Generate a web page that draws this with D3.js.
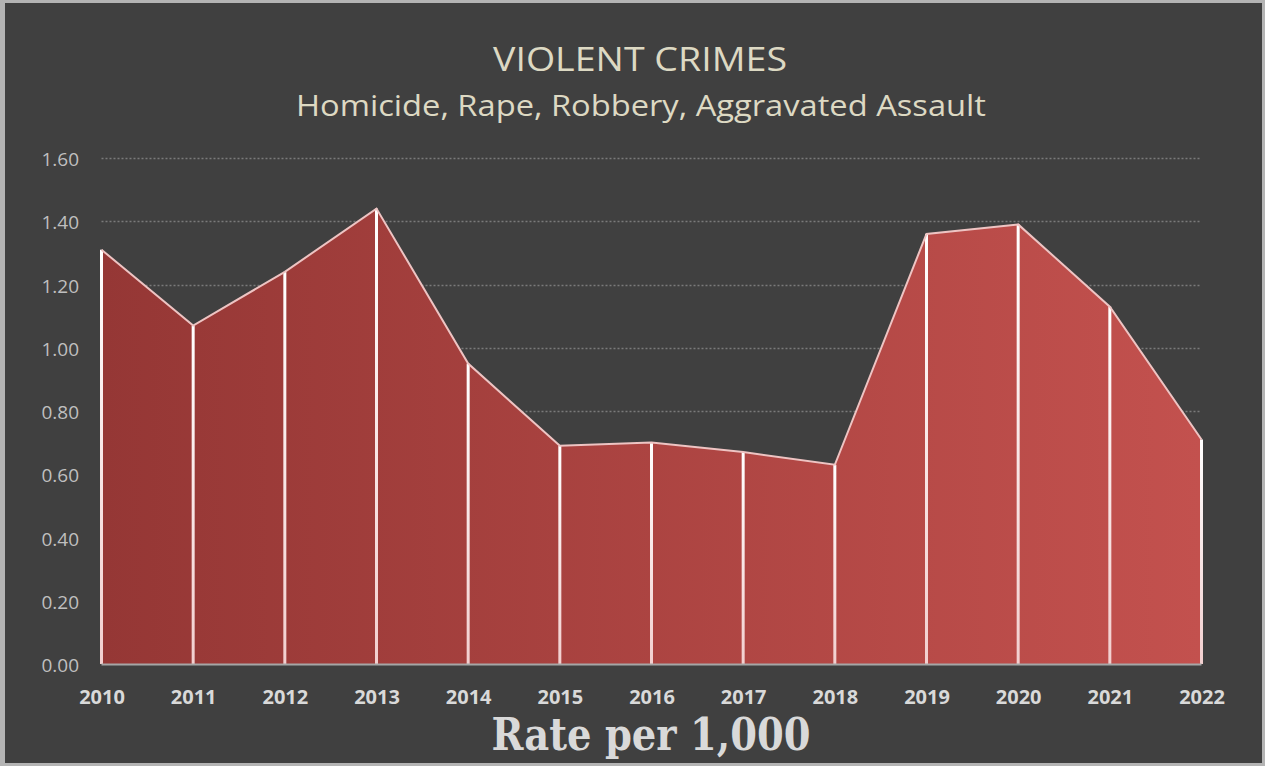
<!DOCTYPE html>
<html>
<head>
<meta charset="utf-8">
<script src="https://cdn.jsdelivr.net/npm/d3@7/dist/d3.min.js"></script>
<style>
  html, body { margin: 0; padding: 0; background: #b4b4b4; }
  svg { display: block; }
</style>
</head>
<body>
<svg id="chart" width="1265" height="766"></svg>
<script>
// Violent crime rate per 1,000 residents, by year
const years = [2010, 2011, 2012, 2013, 2014, 2015, 2016, 2017, 2018, 2019, 2020, 2021, 2022];
const rates = [1.31, 1.07, 1.24, 1.44, 0.95, 0.69, 0.70, 0.67, 0.63, 1.36, 1.39, 1.13, 0.71];
const yTicks = [0, 0.2, 0.4, 0.6, 0.8, 1.0, 1.2, 1.4, 1.6];

const titleText = "VIOLENT CRIMES";
const subtitleText = "Homicide, Rape, Robbery, Aggravated Assault";
const axisTitleText = "Rate per 1,000";

const data = years.map((y, i) => ({ year: y, rate: rates[i] }));

const svg = d3.select("#chart");
const W = 1265, H = 766;

// chart panel with thin light frame
svg.append("rect").attr("x", 0).attr("y", 0).attr("width", W).attr("height", H).attr("fill", "#b4b4b4");
svg.append("rect").attr("x", 5).attr("y", 3).attr("width", 1257).attr("height", 760).attr("fill", "#404040");

const x = d3.scaleLinear().domain([2010, 2022]).range([101.5, 1201.5]);
const y = d3.scaleLinear().domain([0, 1.6]).range([664, 158]);

const defs = svg.append("defs");
const grad = defs.append("linearGradient")
  .attr("id", "areaFill")
  .attr("gradientUnits", "userSpaceOnUse")
  .attr("x1", x(2010)).attr("x2", x(2022)).attr("y1", 0).attr("y2", 0);
grad.append("stop").attr("offset", "0%").attr("stop-color", "#953735");
grad.append("stop").attr("offset", "100%").attr("stop-color", "#c3514e");

const dropGrad = defs.append("linearGradient")
  .attr("id", "dropFill")
  .attr("x1", 0).attr("x2", 0).attr("y1", 0).attr("y2", 1);
dropGrad.append("stop").attr("offset", "0%").attr("stop-color", "#ffffff");
dropGrad.append("stop").attr("offset", "100%").attr("stop-color", "#f2cfcf");

// dotted horizontal gridlines
svg.append("g")
  .selectAll("line")
  .data(yTicks.filter(t => t > 0))
  .join("line")
  .attr("x1", x(2010)).attr("x2", x(2022))
  .attr("y1", d => Math.round(y(d)) + 0.5).attr("y2", d => Math.round(y(d)) + 0.5)
  .attr("stroke", "#7a7a7a")
  .attr("stroke-width", 1.5)
  .attr("stroke-dasharray", "2,2");

// filled area
const area = d3.area()
  .x(d => x(d.year))
  .y0(y(0))
  .y1(d => y(d.rate));
svg.append("path")
  .datum(data)
  .attr("d", area)
  .attr("fill", "url(#areaFill)");

// drop lines from each point to the baseline
svg.append("g")
  .selectAll("rect")
  .data(data)
  .join("rect")
  .attr("x", d => x(d.year) - 1.5)
  .attr("width", 3)
  .attr("y", d => y(d.rate))
  .attr("height", d => y(0) - y(d.rate))
  .attr("fill", "url(#dropFill)");

// area outline
const line = d3.line().x(d => x(d.year)).y(d => y(d.rate));
svg.append("path")
  .datum(data)
  .attr("d", line)
  .attr("fill", "none")
  .attr("stroke", "#eec4c3")
  .attr("stroke-width", 2);

// baseline
svg.append("line")
  .attr("x1", x(2010)).attr("x2", x(2022))
  .attr("y1", y(0) + 0.5).attr("y2", y(0) + 0.5)
  .attr("stroke", "#a6a6a6")
  .attr("stroke-width", 2);

// y axis labels
const yAxis = d3.axisLeft(y).tickValues(yTicks).tickFormat(d3.format(".2f")).tickSize(0).tickPadding(0);
const yg = svg.append("g").attr("transform", "translate(79,1)").call(yAxis);
yg.select(".domain").remove();
yg.selectAll("text")
  .attr("fill", "#bfbfbf")
  .attr("font-family", "'Open Sans', sans-serif")
  .attr("font-size", 19)
  .attr("dy", "0.35em");

// x axis labels
const xAxis = d3.axisBottom(x).tickValues(years).tickFormat(d3.format("d")).tickSize(0).tickPadding(0);
const xg = svg.append("g").attr("transform", "translate(0,697)").call(xAxis);
xg.select(".domain").remove();
xg.selectAll("text")
  .attr("fill", "#d9d9d9")
  .attr("font-family", "'Open Sans', sans-serif")
  .attr("font-weight", "bold")
  .attr("font-size", 20)
  .attr("dy", "0.35em");

// titles
svg.append("text")
  .attr("x", 640).attr("y", 71)
  .attr("text-anchor", "middle")
  .attr("fill", "#ddd9c3")
  .attr("font-family", "'Open Sans', sans-serif")
  .attr("font-size", 32)
  .attr("textLength", 294).attr("lengthAdjust", "spacingAndGlyphs")
  .text(titleText);

svg.append("text")
  .attr("x", 641).attr("y", 116)
  .attr("text-anchor", "middle")
  .attr("fill", "#ddd9c3")
  .attr("font-family", "'Open Sans', sans-serif")
  .attr("font-size", 30)
  .attr("textLength", 690).attr("lengthAdjust", "spacingAndGlyphs")
  .text(subtitleText);

svg.append("text")
  .attr("x", 651).attr("y", 750)
  .attr("text-anchor", "middle")
  .attr("fill", "#d9d9d9")
  .attr("font-family", "'DejaVu Serif', 'Liberation Serif', serif")
  .attr("font-weight", "bold")
  .attr("font-size", 44)
  .attr("textLength", 319).attr("lengthAdjust", "spacingAndGlyphs")
  .text(axisTitleText);
</script>
</body>
</html>
